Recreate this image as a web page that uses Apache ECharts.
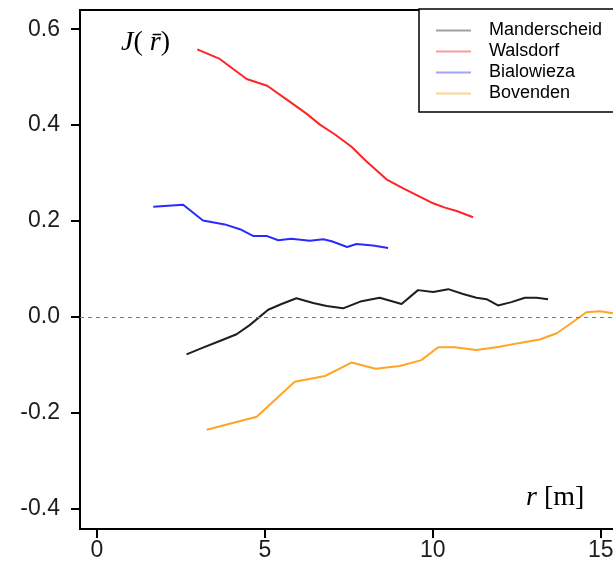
<!DOCTYPE html>
<html>
<head>
<meta charset="utf-8">
<script src="https://cdn.jsdelivr.net/npm/echarts@6/dist/echarts.min.js"></script>
<style>html,body{margin:0;padding:0;background:#fff;overflow:hidden;}#c{width:640px;height:562px;}</style>
</head>
<body>
<div id="c"></div>
<script>
const seriesNames = ['Manderscheid', 'Walsdorf', 'Bialowieza', 'Bovenden'];
const xTicks = [0, 5, 10, 15];
const yTicks = [-0.4, -0.2, 0, 0.2, 0.4, 0.6];

const manderX = [2.67, 3.16, 3.66, 4.16, 4.55, 5.10, 5.50, 5.94, 6.44, 6.84, 7.33, 7.88, 8.42, 9.07, 9.56, 10.01, 10.46, 10.90, 11.30, 11.60, 11.94, 12.34, 12.74, 13.09, 13.43];
const manderY = [-0.078, -0.064, -0.050, -0.036, -0.017, 0.015, 0.027, 0.039, 0.029, 0.023, 0.018, 0.033, 0.040, 0.027, 0.056, 0.052, 0.058, 0.048, 0.040, 0.037, 0.024, 0.031, 0.040, 0.040, 0.037];

const walsX = [2.99, 3.66, 4.46, 5.07, 5.74, 6.24, 6.64, 7.08, 7.58, 8.03, 8.62, 9.12, 9.61, 10.01, 10.36, 10.71, 11.20];
const walsY = [0.558, 0.538, 0.496, 0.482, 0.449, 0.424, 0.401, 0.381, 0.355, 0.324, 0.287, 0.268, 0.251, 0.237, 0.228, 0.221, 0.208];

const bialX = [1.68, 2.57, 3.16, 3.81, 4.26, 4.65, 5.05, 5.40, 5.79, 6.34, 6.74, 6.99, 7.45, 7.73, 8.22, 8.67];
const bialY = [0.230, 0.234, 0.201, 0.193, 0.183, 0.169, 0.169, 0.160, 0.163, 0.159, 0.162, 0.158, 0.146, 0.152, 0.149, 0.144];

const bovX = [3.27, 4.76, 5.89, 6.79, 7.58, 8.30, 9.02, 9.66, 10.16, 10.65, 11.30, 11.99, 12.59, 13.18, 13.69, 14.18, 14.57, 14.97, 15.37];
const bovY = [-0.235, -0.208, -0.135, -0.123, -0.095, -0.108, -0.102, -0.090, -0.063, -0.063, -0.069, -0.062, -0.054, -0.047, -0.034, -0.010, 0.010, 0.012, 0.008];

const lineColors = ['#1e1e1e', '#ff2424', '#2a2aff', '#ffa526'];
const legendColors = ['#a0a0a0', '#f79c9c', '#a3a3f7', '#fbd593'];

function zip(xs, ys) { return xs.map((x, i) => [x, ys[i]]); }
const dataSets = [zip(manderX, manderY), zip(walsX, walsY), zip(bialX, bialY), zip(bovX, bovY)];

const chart = echarts.init(document.getElementById('c'), null, { renderer: 'canvas' });

const series = seriesNames.map((name, i) => {
  const s = {
    name: name,
    type: 'line',
    data: dataSets[i],
    showSymbol: false,
    symbol: 'none',
    smooth: false,
    lineStyle: { color: lineColors[i], width: 2 },
    itemStyle: { color: lineColors[i] },
    z: 3,
    animation: false
  };
  if (i === 0) {
    s.markLine = {
      silent: true,
      symbol: ['none', 'none'],
      label: { show: false },
      lineStyle: { type: [4, 4], color: '#7a7a7a', width: 1 },
      data: [{ yAxis: 0 }],
      animation: false
    };
  }
  return s;
});

const option = {
  backgroundColor: '#fff',
  animation: false,
  grid: {
    left: 80, top: 10, width: 554.4, height: 519,
    show: true, borderColor: '#000', borderWidth: 2, backgroundColor: 'transparent'
  },
  xAxis: {
    type: 'value', min: -0.5, max: 16,
    splitLine: { show: false },
    axisLine: { show: true, onZero: false, lineStyle: { color: '#000', width: 2 } },
    axisTick: { show: true, customValues: xTicks, length: 9, lineStyle: { color: '#000', width: 2 } },
    axisLabel: { customValues: xTicks, margin: 10, color: '#1c1c1c', fontFamily: 'Liberation Sans', fontSize: 23, formatter: v => String(v) }
  },
  yAxis: {
    type: 'value', min: -0.442, max: 0.64,
    splitLine: { show: false },
    axisLine: { show: true, onZero: false, lineStyle: { color: '#000', width: 2 } },
    axisTick: { show: true, customValues: yTicks, length: 9, lineStyle: { color: '#000', width: 2 } },
    axisLabel: { customValues: yTicks, margin: 20, color: '#1c1c1c', fontFamily: 'Liberation Sans', fontSize: 23, formatter: v => v.toFixed(1) }
  },
  legend: {
    orient: 'vertical',
    left: 419, top: 9,
    backgroundColor: '#fff',
    borderColor: '#000', borderWidth: 1.5,
    padding: [11, 40, 8, 17],
    itemGap: 0, itemWidth: 35, itemHeight: 2,
    icon: 'rect',
    textStyle: { fontFamily: 'Liberation Sans', fontSize: 18, lineHeight: 21, color: '#000', padding: [0, 0, 0, 13] },
    data: seriesNames.map((n, i) => ({ name: n, icon: 'rect', itemStyle: { color: legendColors[i] } }))
  },
  graphic: [
    {
      type: 'text', left: 121, top: 29, z: 10,
      style: {
        text: '{i|J}{n|(}{i| r\u0304}{n|)}',
        rich: {
          i: { fontFamily: 'Liberation Serif', fontStyle: 'italic', fontSize: 28, fill: '#000' },
          n: { fontFamily: 'Liberation Serif', fontSize: 28, fill: '#000' }
        }
      }
    },
    {
      type: 'text', left: 526, top: 484, z: 10,
      style: {
        text: '{i|r}{n| [m]}',
        rich: {
          i: { fontFamily: 'Liberation Serif', fontStyle: 'italic', fontSize: 28, fill: '#000' },
          n: { fontFamily: 'Liberation Serif', fontSize: 28, fill: '#000' }
        }
      }
    }
  ],
  series: series
};

chart.setOption(option);
</script>
</body>
</html>
